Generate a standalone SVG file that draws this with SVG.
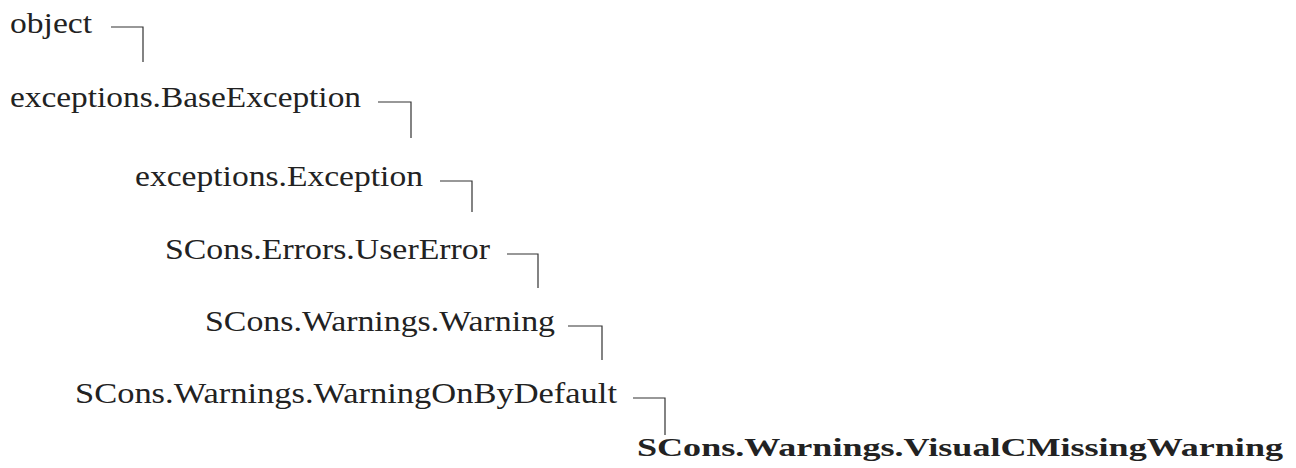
<svg xmlns="http://www.w3.org/2000/svg" width="1296" height="468" viewBox="0 0 1296 468">
<defs>
<style>
.c{fill:none;stroke:#333;stroke-width:1.2}
</style>
</defs>
<rect width="1296" height="468" fill="#fff"/>
<g font-family="'Liberation Serif', 'DejaVu Serif', serif" font-size="29" fill="#222">
<g id="n1"><text x="10" y="33" textLength="82" lengthAdjust="spacingAndGlyphs">object</text></g>
<g id="n2"><text x="10" y="107" textLength="351" lengthAdjust="spacingAndGlyphs">exceptions.BaseException</text></g>
<g id="n3"><text x="135" y="186" textLength="288" lengthAdjust="spacingAndGlyphs">exceptions.Exception</text></g>
<g id="n4"><text x="165" y="259" textLength="325" lengthAdjust="spacingAndGlyphs">SCons.Errors.UserError</text></g>
<g id="n5"><text x="205" y="331" textLength="350" lengthAdjust="spacingAndGlyphs">SCons.Warnings.Warning</text></g>
<g id="n6"><text x="75" y="403" textLength="542" lengthAdjust="spacingAndGlyphs">SCons.Warnings.WarningOnByDefault</text></g>
<g id="n7"><text font-weight="bold" font-size="25" x="637" y="456" textLength="646" lengthAdjust="spacingAndGlyphs">SCons.Warnings.VisualCMissingWarning</text></g>
</g>
<g id="connectors">
<path class="c" d="M111 27H143V62"/>
<path class="c" d="M378 102H411V138"/>
<path class="c" d="M440 181H472V212"/>
<path class="c" d="M507 254H538V288"/>
<path class="c" d="M568 326H602V360"/>
<path class="c" d="M633 398H665V435"/>
</g>
</svg>
